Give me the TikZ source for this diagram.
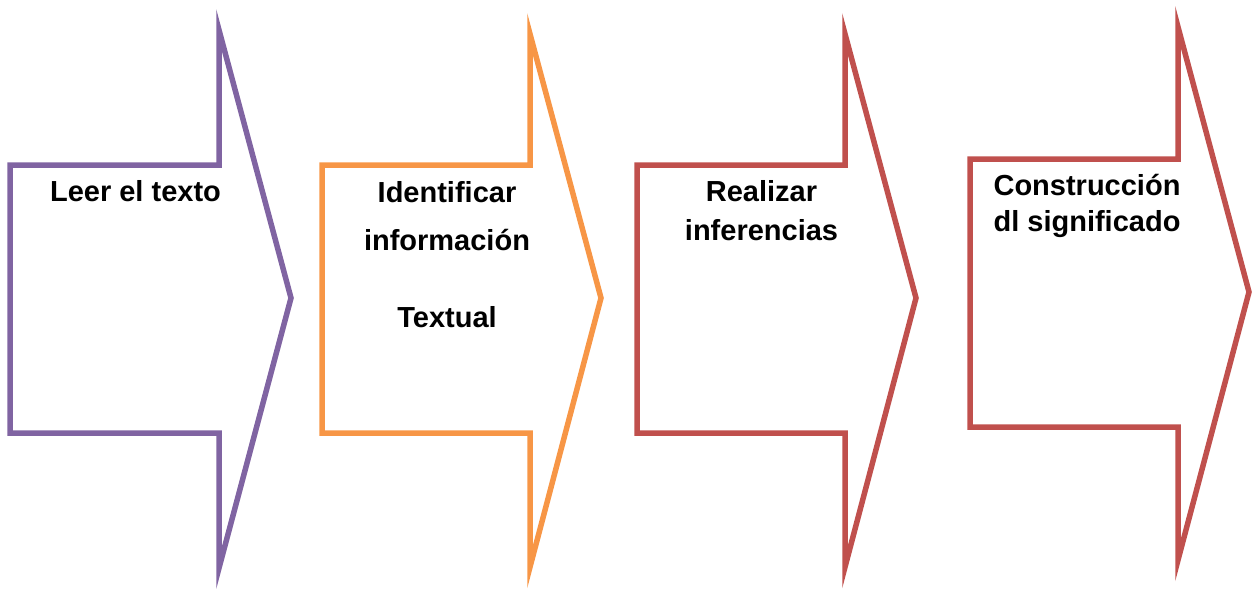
\documentclass[tikz,border=0pt]{standalone}
\usepackage{fontspec}
\setmainfont{Liberation Sans}
\definecolor{apurple}{HTML}{8064A2}
\definecolor{aorange}{HTML}{F79646}
\definecolor{ared}{HTML}{C0504D}
\begin{document}
\begin{tikzpicture}[x=1pt,y=-1pt,
  arrowshape/.style={line width=5.5pt, line join=miter, miter limit=12},
  lbl/.style={anchor=base, inner sep=0pt, font=\fontsize{29}{35}\selectfont\bfseries}]
\useasboundingbox (0,0) rectangle (1255,589);
\draw[arrowshape, apurple] (10,165) -- (219,165) -- (219,30) -- (291,298) -- (219,568) -- (219,433) -- (10,433) -- cycle;
\draw[arrowshape, aorange] (322,165) -- (530,165) -- (530,34) -- (601,298) -- (530,567) -- (530,433) -- (322,433) -- cycle;
\draw[arrowshape, ared] (637,165) -- (845,165) -- (845,34) -- (916,298) -- (845,567) -- (845,433) -- (637,433) -- cycle;
\draw[arrowshape, ared] (970,159) -- (1178,159) -- (1178,27) -- (1249,292) -- (1178,560) -- (1178,427) -- (970,427) -- cycle;
\node[lbl] (t1) at (135.5,201) {Leer el texto};
\node[lbl] (t2a) at (447,202) {Identificar};
\node[lbl] (t2b) at (447,250) {información};
\node[lbl] (t2c) at (447,327) {Textual};
\node[lbl] (t3a) at (761.5,201) {Realizar};
\node[lbl] (t3b) at (761.5,240) {inferencias};
\node[lbl] (t4a) at (1087,195) {Construcción};
\node[lbl] (t4b) at (1087,231) {dl significado};
\end{tikzpicture}
\end{document}
